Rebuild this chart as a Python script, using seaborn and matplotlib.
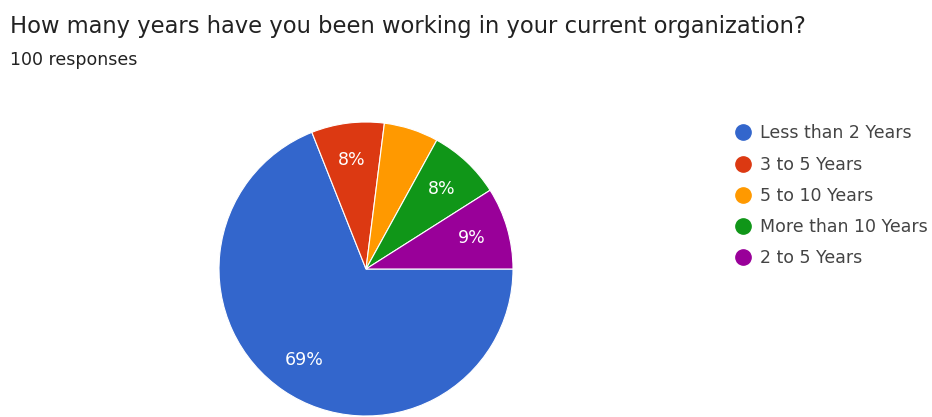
import numpy as np
import matplotlib
matplotlib.use("Agg")
import matplotlib.pyplot as plt
import seaborn as sns

sns.set_theme(style="white")
plt.rcParams["font.family"] = ["DejaVu Sans"]

categories = ["Less than 2 Years", "3 to 5 Years", "5 to 10 Years",
              "More than 10 Years", "2 to 5 Years"]
shares = [69, 8, 6, 8, 9]
colors = ["#3366cc", "#dc3912", "#ff9900", "#109618", "#990099"]
title = "How many years have you been working in your current organization?"
subtitle = "100 responses"

W, H = 932, 417
fig = plt.figure(figsize=(W / 100, H / 100), dpi=100)
fig.patch.set_facecolor("white")


def fy(px):
    """Pixel row measured from the top -> figure fraction."""
    return 1 - px / H


# pie: centre and radius in pixels
cx, cy, r = 366, 269, 147
ax = fig.add_axes([(cx - r) / W, (H - cy - r) / H, 2 * r / W, 2 * r / H])
wedges, _ = ax.pie(shares, colors=colors, startangle=0, counterclock=False,
                   radius=1, wedgeprops=dict(edgecolor="white", linewidth=0.8))
ax.set_xlim(-1, 1)
ax.set_ylim(-1, 1)
ax.set_aspect("equal")
ax.axis("off")
for w in wedges:
    w.set_clip_on(False)

# percentage labels; slices below 7% stay unlabelled
total = sum(shares)
for w, v in zip(wedges, shares):
    pct = 100 * v / total
    if pct < 7:
        continue
    mid = np.deg2rad((w.theta1 + w.theta2) / 2)
    d = 0.75
    ax.text(d * np.cos(mid), d * np.sin(mid), f"{pct:.0f}%", color="white",
            ha="center", va="center", fontsize=12.5)

fig.text(10 / W, fy(33), title, fontsize=16.3, color="#222222",
         ha="left", va="baseline")
fig.text(10 / W, fy(65), subtitle, fontsize=12.5, color="#222222",
         ha="left", va="baseline")

# legend
row_y = [132, 164, 195, 226, 257]
for lab, c, yy in zip(categories, colors, row_y):
    fig.lines.append(plt.Line2D([743 / W], [fy(yy)], marker="o", markersize=11,
                                color=c, linestyle="none",
                                transform=fig.transFigure, figure=fig))
    fig.text(760 / W, fy(yy + 6.3), lab, fontsize=12.5, color="#444444",
             ha="left", va="baseline")

fig.savefig("out.png", dpi=100, facecolor="white")
